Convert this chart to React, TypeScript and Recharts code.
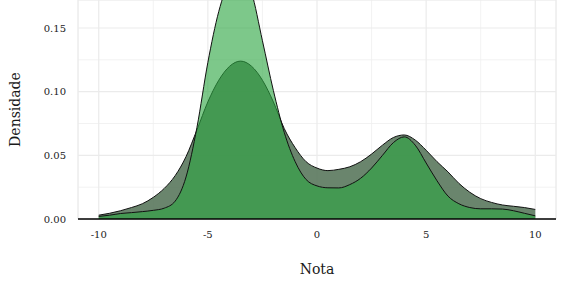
import { AreaChart, Area, XAxis, YAxis, CartesianGrid, Label } from 'recharts'

// density estimates, x = nota
const NOTAS = [
  -10, -9.5, -9, -8.5, -8, -7.5, -7, -6.5, -6, -5.5, -5, -4.5, -4, -3.5, -3, -2.5, -2, -1.5, -1, -0.5,
  0, 0.5, 1, 1.5, 2, 2.5, 3, 3.5, 4, 4.5, 5, 5.5, 6, 6.5, 7, 7.5, 8, 8.5, 9, 9.5, 10,
]

const DENS_A = [
  0.003, 0.0045, 0.0065, 0.009, 0.012, 0.017, 0.024, 0.034, 0.049, 0.07, 0.092, 0.109, 0.12, 0.124,
  0.12, 0.109, 0.092, 0.071, 0.056, 0.045, 0.04, 0.038, 0.039, 0.041, 0.045, 0.051, 0.058, 0.064,
  0.066, 0.062, 0.054, 0.045, 0.037, 0.028, 0.021, 0.016, 0.013, 0.011, 0.01, 0.009, 0.0075,
]

const DENS_B = [
  0.002, 0.003, 0.0043, 0.005, 0.0058, 0.0068, 0.0085, 0.014, 0.033, 0.072, 0.123, 0.163, 0.187,
  0.194, 0.178, 0.14, 0.101, 0.068, 0.045, 0.031, 0.026, 0.0245, 0.0244, 0.027, 0.032, 0.04, 0.05,
  0.06, 0.0645, 0.058, 0.044, 0.03, 0.018, 0.012, 0.009, 0.008, 0.008, 0.0078, 0.0065, 0.0045,
  0.0025,
]

const X_TICKS = [-10, -5, 0, 5, 10]
const X_MINOR = [-7.5, -2.5, 2.5, 7.5]
const Y_TICKS = [0, 0.05, 0.1, 0.15]
const Y_MINOR = [0.025, 0.075, 0.125]

const FONT = '"DejaVu Serif", serif'

const data = NOTAS.map((nota, i) => ({ nota, a: DENS_A[i], b: DENS_B[i] }))

export default function App() {
  return (
    <div style={{ position: 'absolute', left: 0, top: 0 }}>
      <AreaChart width={566} height={300} data={data} margin={{ top: 0, right: 10, bottom: 0, left: 0 }}>
        <XAxis
          xAxisId="minor"
          dataKey="nota"
          type="number"
          domain={[-10.95, 10.95]}
          ticks={X_MINOR}
          hide
        />
        <YAxis yAxisId="minor" type="number" domain={[0, 0.172]} ticks={Y_MINOR} hide allowDataOverflow />
        <CartesianGrid xAxisId="minor" yAxisId="minor" stroke="#efefef" strokeWidth={0.8} />
        <CartesianGrid stroke="#ebebeb" strokeWidth={1.2} />
        <XAxis
          dataKey="nota"
          type="number"
          domain={[-10.95, 10.95]}
          ticks={X_TICKS}
          height={81}
          tickLine={false}
          axisLine={{ stroke: '#000', strokeWidth: 1.5 }}
          tick={{ fontSize: 10, fill: '#222', fontFamily: FONT }}
          tickMargin={6}
        >
          <Label
            value="Nota"
            position="insideBottom"
            offset={26}
            style={{ fontSize: 14, fill: '#1a1a1a', fontFamily: FONT }}
          />
        </XAxis>
        <YAxis
          type="number"
          domain={[0, 0.172]}
          allowDataOverflow
          ticks={Y_TICKS}
          width={78}
          tickLine={false}
          axisLine={false}
          tickFormatter={(v: number) => v.toFixed(2)}
          tick={{ fontSize: 10, fill: '#222', fontFamily: FONT }}
          tickMargin={6}
        >
          <Label
            value="Densidade"
            angle={-90}
            position="insideLeft"
            offset={15}
            style={{ fontSize: 14, fill: '#1a1a1a', fontFamily: FONT, textAnchor: 'middle' }}
          />
        </YAxis>
        <Area
          type="monotone"
          dataKey="a"
          stroke="#111"
          strokeWidth={1}
          fill="#5a785d"
          fillOpacity={0.9}
          isAnimationActive={false}
        />
        <Area
          type="monotone"
          dataKey="b"
          stroke="#111"
          strokeWidth={1}
          fill="#2da642"
          fillOpacity={0.62}
          isAnimationActive={false}
        />
      </AreaChart>
    </div>
  )
}
